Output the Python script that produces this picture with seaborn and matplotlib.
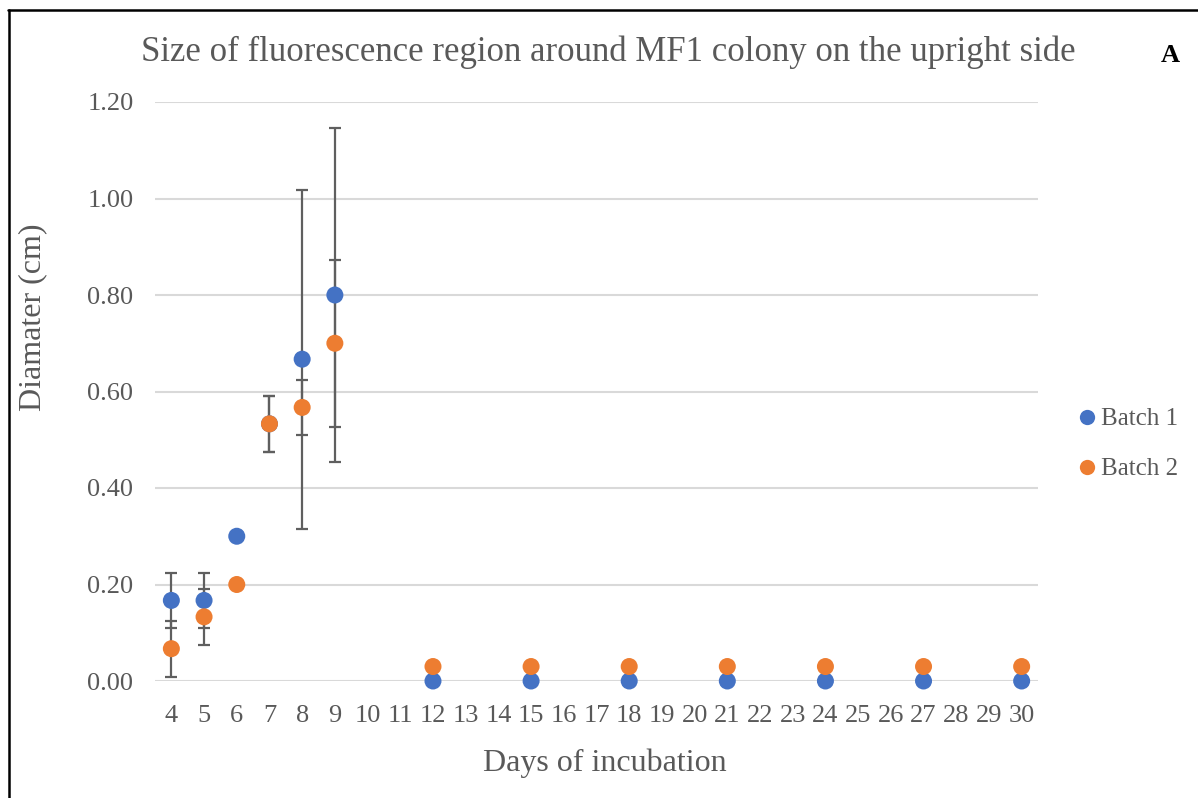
import numpy as np
import pandas as pd
import matplotlib
matplotlib.use("Agg")
import matplotlib.pyplot as plt
from matplotlib.lines import Line2D
import seaborn as sns

# Measurement days and mean colony fluorescence diameters (cm)
days = [4, 5, 6, 7, 8, 9, 12, 15, 18, 21, 24, 27, 30]
batch1 = [0.167, 0.167, 0.300, 0.533, 0.667, 0.800, 0, 0, 0, 0, 0, 0, 0]
batch2 = [0.067, 0.133, 0.200, 0.533, 0.567, 0.700, 0.03, 0.03, 0.03, 0.03, 0.03, 0.03, 0.03]
# Standard deviations
batch1_sd = [0.0577, 0.0577, 0, 0.0577, 0.351, 0.346, 0, 0, 0, 0, 0, 0, 0]
batch2_sd = [0.0577, 0.0577, 0, 0.0577, 0.0577, 0.173, 0, 0, 0, 0, 0, 0, 0]
series_names = ["Batch 1", "Batch 2"]
day_ticks = list(range(4, 31))
y_ticks = [0.0, 0.2, 0.4, 0.6, 0.8, 1.0, 1.2]

title = "Size of fluorescence region around MF1 colony on the upright side"

df = pd.DataFrame({
    "day": days * 2,
    "diameter": batch1 + batch2,
    "sd": batch1_sd + batch2_sd,
    "batch": [series_names[0]] * len(days) + [series_names[1]] * len(days),
})

colors = {"Batch 1": "#4472C4", "Batch 2": "#ED7D31"}
text_gray = "#595959"

sns.set_theme(style="white")
plt.rcParams["font.family"] = ["Liberation Serif", "DejaVu Serif"]

fig = plt.figure(figsize=(11.98, 7.98), dpi=100)
ax = fig.add_axes([155 / 1198, 1 - 681 / 798, (1038 - 155) / 1198, (681 - 102) / 798])

# Error bars drawn beneath the markers
for name in series_names:
    sub = df[df["batch"] == name]
    ax.errorbar(sub["day"], sub["diameter"], yerr=sub["sd"], fmt="none",
                ecolor="#5f5f5f", elinewidth=1.6, capsize=4.2, capthick=1.6,
                zorder=2)

sns.scatterplot(data=df, x="day", y="diameter", hue="batch",
                palette=colors, hue_order=series_names, s=150,
                edgecolor="none", linewidth=0, ax=ax, zorder=3, legend=False,
                clip_on=False)

ax.set_xlim(3.5, 30.5)
ax.set_ylim(0, 1.2)
ax.set_xticks(day_ticks)
ax.set_xticklabels([str(d) for d in day_ticks])
ax.set_yticks(y_ticks)
ax.set_yticklabels([f"{v:.2f}" for v in y_ticks])
ax.tick_params(axis="both", length=0, labelsize=19, labelcolor=text_gray)
ax.tick_params(axis="x", pad=17)
ax.tick_params(axis="y", pad=15.5)
ax.yaxis.grid(True, color="#D9D9D9", linewidth=1.5)
ax.xaxis.grid(False)
for sp in ax.spines.values():
    sp.set_visible(False)
ax.set_axisbelow(True)

ax.set_xlabel("Days of incubation", fontsize=23, color=text_gray)
ax.xaxis.set_label_coords((605 - 155) / 883, -(748 - 681) / 579)
ax.set_ylabel("Diamater (cm)", fontsize=23, color=text_gray)
ax.yaxis.set_label_coords(-0.122, 1 - (317 - 102) / (681 - 102))

fig.text(608 / 1198, 1 - 52 / 798, title, ha="center", va="center",
         fontsize=25, color=text_gray)
fig.text(1170 / 1198, 1 - 55 / 798, "A", ha="center", va="center",
         fontsize=19, fontweight="bold", color="black")

handles = [Line2D([], [], linestyle="none", marker="o", markersize=11,
                  markerfacecolor=colors[n], markeredgewidth=0) for n in series_names]
fig.legend(handles, series_names, loc="center left",
           bbox_to_anchor=(1067 / 1198, 1 - 444 / 798), frameon=False,
           fontsize=18, labelcolor=text_gray, handlelength=0.6,
           handletextpad=0.25, labelspacing=1.1, borderpad=0)

# Frame segments along the left and top edges
fig.add_artist(Line2D([9 / 1198, 9 / 1198], [0, 1 - 10 / 798],
                      transform=fig.transFigure, color="black", linewidth=1.8))
fig.add_artist(Line2D([8 / 1198, 1], [1 - 10 / 798, 1 - 10 / 798],
                      transform=fig.transFigure, color="black", linewidth=1.8))

fig.savefig("out.png", dpi=100, facecolor="white")
